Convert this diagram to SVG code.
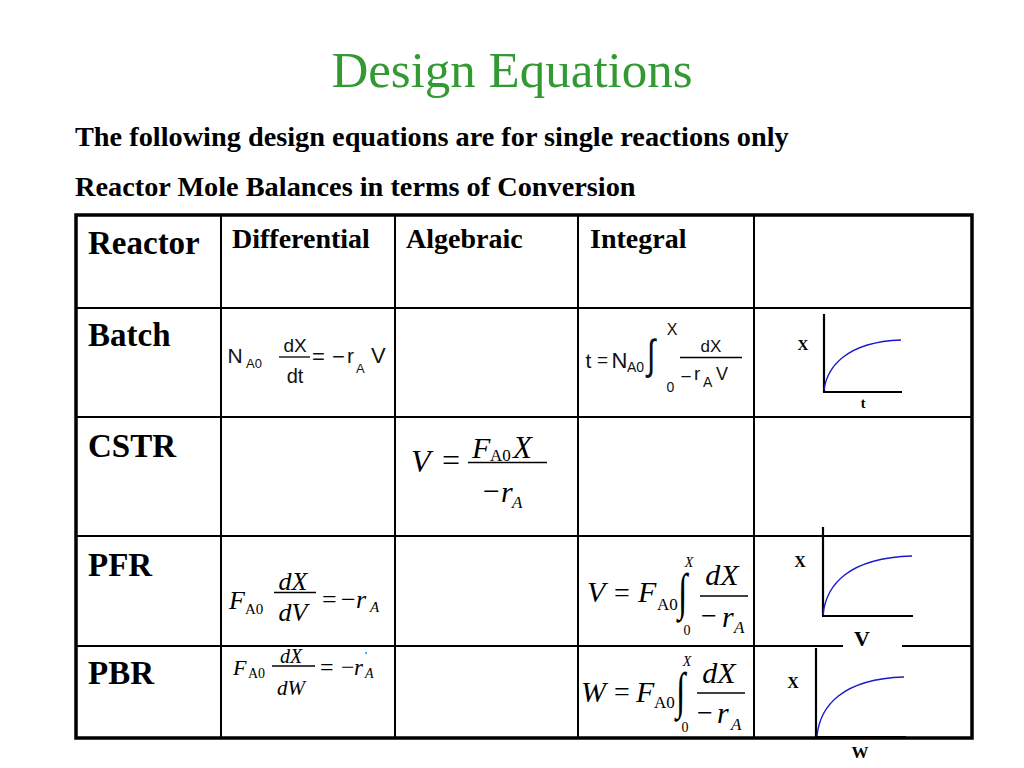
<svg xmlns="http://www.w3.org/2000/svg" width="1024" height="768" viewBox="0 0 1024 768">
<style>
.ser{font-family:"Liberation Serif","Times New Roman",serif;fill:#000}
.b{font-weight:bold}
.i{font-style:italic}
.sans{font-family:"Liberation Sans",Arial,sans-serif;fill:#111}
.grid{stroke:#000;stroke-width:2;fill:none}
.outer{stroke:#000;stroke-width:3.5;fill:none}
.bar{stroke:#000;stroke-width:1.3}
.axis{stroke:#000;stroke-width:2.2;fill:none}
.curve{stroke:#1a1acc;stroke-width:1.4;fill:none}
.hdr{font-size:28px}
.row{font-size:33px}
</style>
<rect width="1024" height="768" fill="#fff"/>
<g id="title">
<text x="512" y="87" text-anchor="middle" class="ser" style="font-size:51px;fill:#339933">Design Equations</text>
</g>
<g id="subtitles">
<text x="75" y="146" class="ser b" style="font-size:28.3px">The following design equations are for single reactions only</text>
<text x="75" y="196" class="ser b" style="font-size:28.3px">Reactor Mole Balances in terms of Conversion</text>
</g>
<g id="table">
<line class="grid" x1="221" y1="215" x2="221" y2="738"/>
<line class="grid" x1="395" y1="215" x2="395" y2="738"/>
<line class="grid" x1="578" y1="215" x2="578" y2="738"/>
<line class="grid" x1="754" y1="215" x2="754" y2="738"/>
<line class="grid" x1="76" y1="308" x2="972" y2="308"/>
<line class="grid" x1="76" y1="417" x2="972" y2="417"/>
<line class="grid" x1="76" y1="536" x2="972" y2="536"/>
<line class="grid" x1="76" y1="646" x2="843" y2="646"/>
<line class="grid" x1="902" y1="646" x2="972" y2="646"/>
<rect class="outer" x="76" y="215" width="896" height="523"/>
</g>
<g id="header">
<text x="88" y="254" class="ser b row">Reactor</text>
<text x="232" y="248" class="ser b hdr">Differential</text>
<text x="406" y="248" class="ser b hdr">Algebraic</text>
<text x="590" y="248" class="ser b hdr">Integral</text>
</g>
<g id="row-batch">
<text x="88" y="346" class="ser b row">Batch</text>
<g id="batch-differential" class="sans">
<text x="227.5" y="363" style="font-size:21px">N</text>
<text x="246" y="368" style="font-size:13px">A0</text>
<text x="295" y="351.5" text-anchor="middle" style="font-size:19px">dX</text>
<line class="bar" x1="279" y1="357" x2="310" y2="357"/>
<text x="295" y="383" text-anchor="middle" style="font-size:20px">dt</text>
<text x="312" y="364" style="font-size:22px">=</text>
<text x="332" y="364" style="font-size:22px">−</text>
<text x="347" y="363" style="font-size:21px">r</text>
<text x="356" y="373" style="font-size:13px">A</text>
<text x="371" y="363" style="font-size:22px">V</text>
</g>
<g id="batch-integral" class="sans">
<text x="585.5" y="368" style="font-size:21px">t</text>
<text x="597" y="366" style="font-size:19px">=</text>
<text x="611.5" y="368" style="font-size:22px">N</text>
<text x="627" y="372" style="font-size:14px">A0</text>
<text transform="translate(647,368.5) scale(1,1.4)" style="font-size:30px">∫</text>
<text x="672" y="335" text-anchor="middle" style="font-size:16px">X</text>
<text x="670.5" y="392" text-anchor="middle" style="font-size:14px">0</text>
<text x="711" y="352" text-anchor="middle" style="font-size:17px">dX</text>
<line class="bar" x1="680" y1="357.5" x2="742" y2="357.5"/>
<text x="680.5" y="383" style="font-size:19px">−</text>
<text x="694" y="380" style="font-size:19px">r</text>
<text x="703" y="387" style="font-size:14px">A</text>
<text x="716" y="380" style="font-size:18px">V</text>
</g>
<g id="batch-graph">
<line class="axis" x1="824" y1="314" x2="824" y2="392"/>
<line class="axis" x1="823" y1="392" x2="902" y2="392"/>
<path class="curve" d="M824,390 C827,368 845,342 901,340"/>
<text x="803" y="350" text-anchor="middle" class="ser b" style="font-size:15px">X</text>
<text x="863" y="408" text-anchor="middle" class="ser b" style="font-size:14px">t</text>
</g>
</g>
<g id="row-cstr">
<text x="88" y="457" class="ser b row">CSTR</text>
<g id="cstr-algebraic" class="ser">
<text x="411" y="472" class="i" style="font-size:32px">V</text>
<text x="442" y="471" style="font-size:32px">=</text>
<text x="472" y="458" class="i" style="font-size:30px">F</text>
<text x="490" y="461" style="font-size:17px">A0</text>
<text x="513" y="458" class="i" style="font-size:31px">X</text>
<line class="bar" x1="468" y1="462.5" x2="547" y2="462.5"/>
<text x="483" y="501" style="font-size:30px">−</text>
<text x="501" y="502" class="i" style="font-size:30px">r</text>
<text x="512" y="508" class="i" style="font-size:17px">A</text>
</g>
</g>
<g id="row-pfr">
<text x="88" y="576" class="ser b row">PFR</text>
<g id="pfr-differential" class="ser">
<text x="229" y="609" class="i" style="font-size:26px">F</text>
<text x="245" y="614" style="font-size:15px">A0</text>
<text x="293" y="590" text-anchor="middle" class="i" style="font-size:26px">dX</text>
<line class="bar" x1="274" y1="592.5" x2="316" y2="592.5"/>
<text x="293" y="621" text-anchor="middle" class="i" style="font-size:26px">dV</text>
<text x="322" y="608" style="font-size:26px">=</text>
<text x="341" y="608" style="font-size:26px">−</text>
<text x="356" y="608" class="i" style="font-size:26px">r</text>
<text x="370" y="612" class="i" style="font-size:15px">A</text>
</g>
<g id="pfr-integral" class="ser">
<text x="587" y="602" class="i" style="font-size:30px">V</text>
<text x="614" y="602" style="font-size:28px">=</text>
<text x="638" y="602" class="i" style="font-size:30px">F</text>
<text x="657" y="610" style="font-size:17px">A0</text>
<text transform="translate(678,609) scale(1,1.5)" class="i" style="font-size:34px">∫</text>
<text x="689" y="567" text-anchor="middle" class="i" style="font-size:14px">X</text>
<text x="687" y="635" text-anchor="middle" style="font-size:14px">0</text>
<text x="722" y="585" text-anchor="middle" class="i" style="font-size:30px">dX</text>
<line class="bar" x1="700" y1="596" x2="748" y2="596"/>
<text x="701" y="625" style="font-size:28px">−</text>
<text x="722" y="627" class="i" style="font-size:30px">r</text>
<text x="734" y="633" class="i" style="font-size:17px">A</text>
</g>
<g id="pfr-graph">
<line class="axis" x1="823" y1="527" x2="823" y2="616"/>
<line class="axis" x1="822" y1="616" x2="913" y2="616"/>
<path class="curve" d="M823,615 C826,585 848,558 912,556"/>
<text x="800" y="567" text-anchor="middle" class="ser b" style="font-size:16px">X</text>
<text x="862" y="646" text-anchor="middle" class="ser b" style="font-size:22px">V</text>
</g>
</g>
<g id="row-pbr">
<text x="88" y="684" class="ser b row">PBR</text>
<g id="pbr-differential" class="ser">
<text x="233" y="675" class="i" style="font-size:22px">F</text>
<text x="248" y="678" style="font-size:14px">A0</text>
<text x="291" y="663" text-anchor="middle" class="i" style="font-size:20px">dX</text>
<line class="bar" x1="272" y1="666" x2="315" y2="666"/>
<text x="291" y="695" text-anchor="middle" class="i" style="font-size:21px">dW</text>
<text x="320" y="675" style="font-size:24px">=</text>
<text x="341" y="675" style="font-size:24px">−</text>
<text x="354" y="675" class="i" style="font-size:23px">r</text>
<text x="365" y="659" style="font-size:11px">'</text>
<text x="365" y="678" class="i" style="font-size:14px">A</text>
</g>
<g id="pbr-integral" class="ser">
<text x="581" y="702" class="i" style="font-size:30px">W</text>
<text x="614" y="701" style="font-size:28px">=</text>
<text x="636" y="702" class="i" style="font-size:30px">F</text>
<text x="654" y="708" style="font-size:17px">A0</text>
<text transform="translate(676,708) scale(1,1.5)" class="i" style="font-size:34px">∫</text>
<text x="687" y="666" text-anchor="middle" class="i" style="font-size:14px">X</text>
<text x="685" y="732" text-anchor="middle" style="font-size:14px">0</text>
<text x="719" y="683" text-anchor="middle" class="i" style="font-size:30px">dX</text>
<line class="bar" x1="697" y1="693" x2="745" y2="693"/>
<text x="697" y="722" style="font-size:28px">−</text>
<text x="717" y="723" class="i" style="font-size:30px">r</text>
<text x="731" y="730" class="i" style="font-size:17px">A</text>
</g>
<g id="pbr-graph">
<line class="axis" x1="816" y1="648" x2="816" y2="738"/>
<line class="axis" x1="815" y1="737" x2="906" y2="737"/>
<path class="curve" d="M817,736 C820,706 842,679 904,677"/>
<text x="793" y="688" text-anchor="middle" class="ser b" style="font-size:16px">X</text>
<text x="860" y="758" text-anchor="middle" class="ser b" style="font-size:17px">W</text>
</g>
</g>
</svg>
